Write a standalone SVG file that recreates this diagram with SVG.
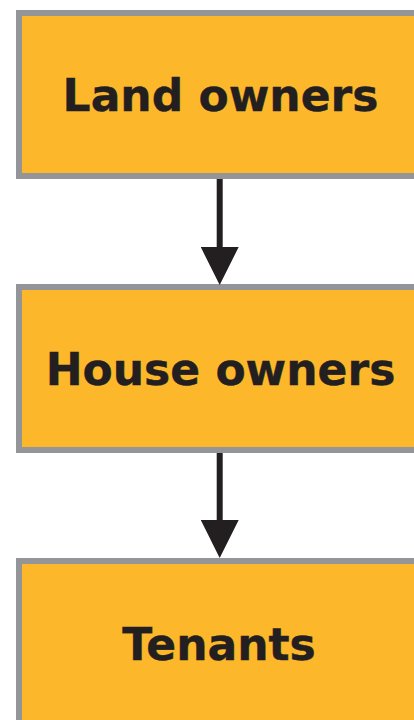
<svg xmlns="http://www.w3.org/2000/svg" width="414" height="720" viewBox="0 0 414 720">
  <style>
    .box { fill: #FCB82A; stroke: #939598; stroke-width: 6; }
    .label { font-family: "DejaVu Sans", Verdana, sans-serif; font-weight: bold; font-size: 44px; fill: #231F20; text-anchor: middle; stroke: #231F20; stroke-width: 0.4; }
    .conn { stroke: #231F20; stroke-width: 6; fill: none; }
  </style>
  <defs>
    <marker id="arrow" viewBox="0 0 38 38" refX="0" refY="19" markerWidth="38" markerHeight="38" markerUnits="userSpaceOnUse" orient="auto">
      <path d="M0,0 L38,19 L0,38 Z" fill="#231F20"/>
    </marker>
  </defs>
  <rect width="414" height="720" fill="#FFFFFF"/>
  <g id="land-owners">
    <rect class="box" x="19" y="13" width="410" height="163"/>
    <text class="label" x="220.5" y="110.5">Land owners</text>
  </g>
  <g id="house-owners">
    <rect class="box" x="19" y="287" width="410" height="163"/>
    <text class="label" x="220.5" y="385">House owners</text>
  </g>
  <g id="tenants">
    <rect class="box" x="19" y="561" width="410" height="163"/>
    <text class="label" x="219" y="659.5">Tenants</text>
  </g>
  <g id="connectors">
    <line class="conn" x1="219.7" y1="179" x2="219.7" y2="247" marker-end="url(#arrow)"/>
    <line class="conn" x1="219.7" y1="453" x2="219.7" y2="520" marker-end="url(#arrow)"/>
  </g>
</svg>
